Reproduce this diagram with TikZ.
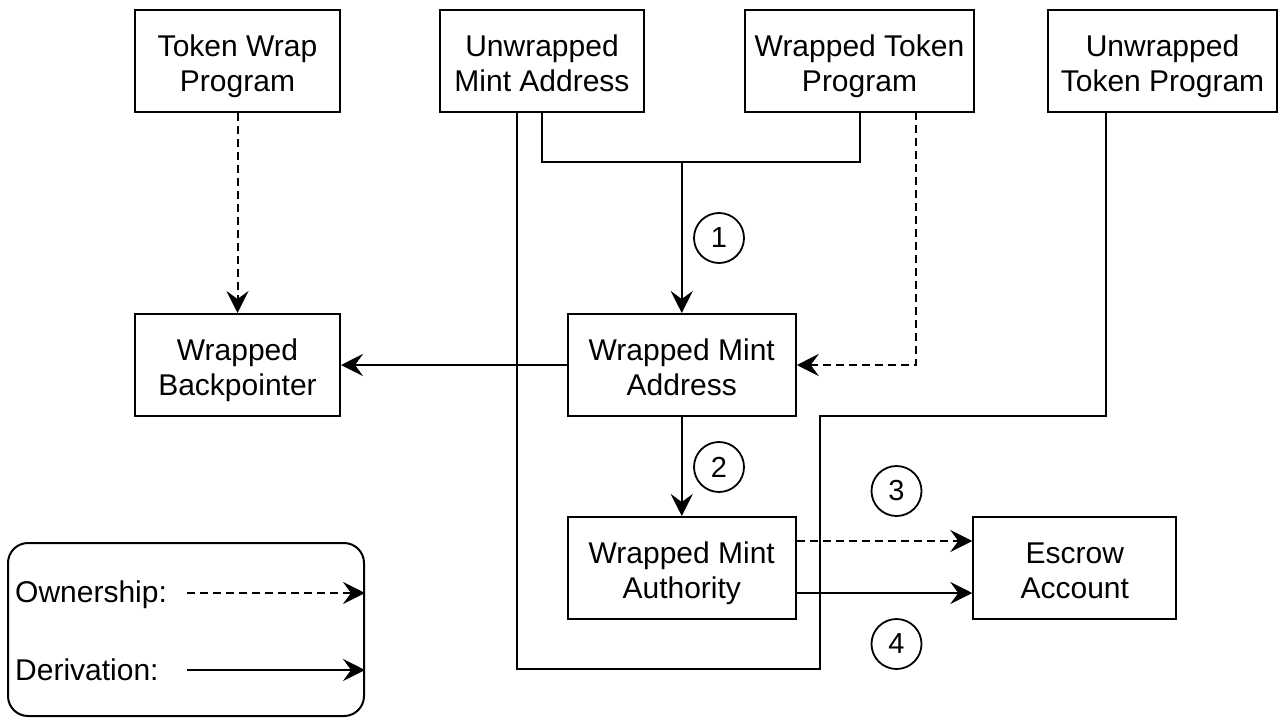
\documentclass[tikz,border=0pt]{standalone}
\usepackage{fontspec}
\setmainfont{Liberation Sans}
\usetikzlibrary{arrows.meta}
\newcommand{\lnstrut}{\rule[-8pt]{0pt}{41pt}}
\newcommand{\tightlines}{\lineskiplimit=-100pt\relax\lineskip=0pt\relax}
\begin{document}
\begin{tikzpicture}[x=1pt,y=-1pt,
  box/.style={draw, line width=2pt, rectangle, align=center, inner sep=0pt,
    minimum height=102pt, font=\fontsize{30}{35}\selectfont\tightlines},
  numc/.style={draw, circle, line width=1.8pt, minimum size=50pt, inner sep=0pt,
    font=\fontsize{29}{30}\selectfont},
  conn/.style={line width=2pt},
  arr/.style={conn, -{Stealth[length=22pt,width=22pt,inset=8pt]}},
  own/.style={arr, dash pattern=on 8pt off 5pt},
  lbl/.style={anchor=west, inner sep=0pt, font=\fontsize{30}{35}\selectfont}
]
\useasboundingbox (0,0) rectangle (1284,720);
\fill[white] (0,0) rectangle (1284,720);

% nodes
\node[box, minimum width=205pt] (twp) at (237.5,61) {\lnstrut Token Wrap\\\lnstrut Program};
\node[box, minimum width=204pt] (uma) at (542,61) {\lnstrut Unwrapped\\\lnstrut Mint Address};
\node[box, minimum width=229pt] (wtp) at (859.5,61) {\lnstrut Wrapped Token\\\lnstrut Program};
\node[box, minimum width=229pt] (utp) at (1162.5,61) {\lnstrut Unwrapped\\\lnstrut Token Program};
\node[box, minimum width=205pt] (wbp) at (237.5,365) {\lnstrut Wrapped\\\lnstrut Backpointer};
\node[box, minimum width=228pt] (wma) at (681.75,365) {\lnstrut Wrapped Mint\\\lnstrut Address};
\node[box, minimum width=228pt] (wmau) at (681.75,568) {\lnstrut Wrapped Mint\\\lnstrut Authority};
\node[box, minimum width=203pt] (esc) at (1074.75,568) {\lnstrut Escrow\\\lnstrut Account};

\node[numc] (c1) at (719,238) {1};
\node[numc] (c2) at (719,467) {2};
\node[numc] (c3) at (896.5,491) {3};
\node[numc] (c4) at (896.5,644) {4};

% connectors
\draw[own] (twp.south) -- (wbp.north);
\draw[arr] (wma.west) -- (wbp.east);

\coordinate (j1) at (681.75,162);
\draw[conn] (uma.south) |- (j1) -| (wtp.south);
\draw[arr] (j1) -- (wma.north);

\coordinate (wtpd) at (916,112);
\draw[own] (wtpd) |- (wma.east);

\draw[arr] (wma.south) -- (wmau.north);
\draw[own] ([yshift=27pt]wmau.east) -- ([yshift=27pt]esc.west);
\draw[arr] ([yshift=-25pt]wmau.east) -- ([yshift=-25pt]esc.west);

\coordinate (umal) at (517,112);
\coordinate (p1) at (517,669);
\coordinate (p2) at (820,669);
\coordinate (p3) at (820,416);
\coordinate (p4) at (1106,416);
\coordinate (utpl) at (1106,112);
\draw[conn, line join=miter] (umal) -- (p1) -- (p2) -- (p3) -- (p4) -- (utpl);

% legend
\node[draw, line width=2pt, rounded corners=20pt, minimum width=356pt,
  minimum height=173pt, inner sep=0pt] (leg) at (186,629.5) {};
\node[lbl] (lo) at (15,595) {Ownership:};
\node[lbl] (ld) at (15,670) {Derivation:};
\coordinate (los) at (187,593);
\coordinate (lds) at (187,670);
\draw[own] (los) -- (los -| leg.east);
\draw[arr] (lds) -- (lds -| leg.east);
\end{tikzpicture}
\end{document}
